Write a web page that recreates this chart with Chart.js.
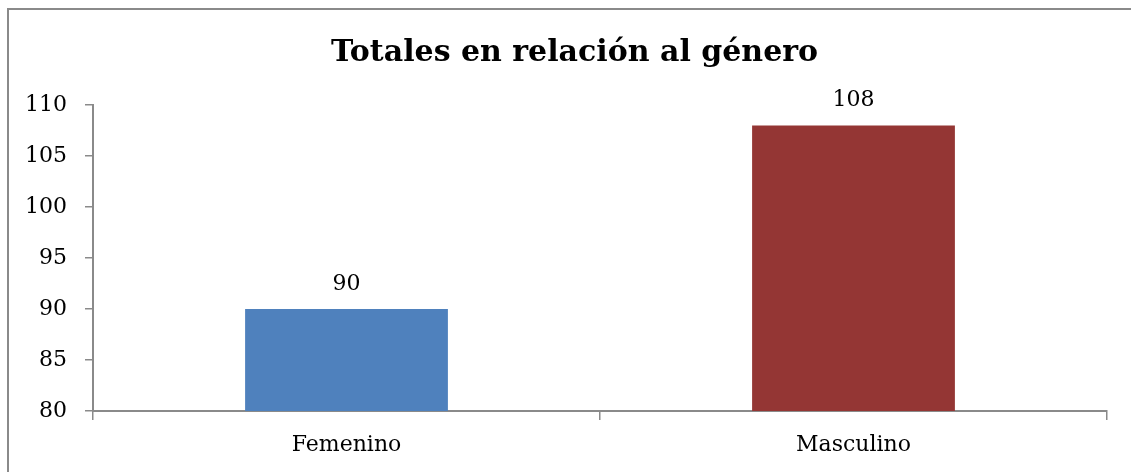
<!DOCTYPE html>
<html>
<head>
<meta charset="utf-8">
<script src="https://cdn.jsdelivr.net/npm/chart.js@4.4.1/dist/chart.umd.min.js"></script>
<style>
  html, body { margin: 0; padding: 0; background: #fff; }
  #wrap { position: relative; width: 1131px; height: 472px; overflow: hidden; }
  #frame { position: absolute; left: 7px; top: 8px; width: 1200px; height: 600px; border: 2px solid #8a8a8a; box-sizing: border-box; }
  canvas { position: absolute; left: 0; top: 0; }
</style>
</head>
<body>
<div id="wrap">
  <div id="frame"></div>
  <canvas id="c" width="1131" height="472"></canvas>
</div>
<script>
const categories = ["Femenino", "Masculino"];
const values = [90, 108];
const barColors = ["#4F81BD", "#943634"];
const titleText = "Totales en relación al género";
const yMin = 80, yMax = 110, yStep = 5;

const FONT = "'DejaVu Serif', 'Liberation Serif', serif";

const valueLabels = {
  id: 'valueLabels',
  afterDatasetsDraw(chart) {
    const ctx = chart.ctx;
    const meta = chart.getDatasetMeta(0);
    ctx.save();
    ctx.font = "22px " + FONT;
    ctx.fillStyle = "#000";
    ctx.textAlign = "center";
    ctx.textBaseline = "alphabetic";
    meta.data.forEach((bar, i) => {
      ctx.fillText(String(chart.data.datasets[0].data[i]), bar.x, bar.y - 19);
    });
    ctx.restore();
  }
};

// shift the title's horizontal box so it is centred like the original (frame starts at x=7)
const titleShift = {
  id: 'titleShift',
  afterLayout(chart) {
    if (chart.titleBlock) {
      chart.titleBlock.left = 42;
    }
  }
};

new Chart(document.getElementById('c'), {
  type: 'bar',
  data: {
    labels: categories,
    datasets: [{
      data: values,
      backgroundColor: barColors,
      borderWidth: 0,
      categoryPercentage: 0.4,
      barPercentage: 1.0
    }]
  },
  options: {
    responsive: false,
    animation: false,
    layout: { padding: { left: 0, right: 24, top: 0, bottom: 0 } },
    plugins: {
      legend: { display: false },
      tooltip: { enabled: false },
      title: {
        display: true,
        text: titleText,
        color: "#000",
        font: { family: FONT, size: 30, weight: 'bold', lineHeight: 1.2 },
        padding: { top: 35, bottom: 34 }
      }
    },
    scales: {
      x: {
        grid: { display: true, drawOnChartArea: false, drawTicks: true, tickLength: 9, color: "#8a8a8a", lineWidth: 1.5, offset: true },
        border: { display: true, color: "#8a8a8a", width: 2 },
        ticks: { color: "#000", font: { family: FONT, size: 22 }, padding: 12 },
        afterFit(scale) { scale.height = 61; }
      },
      y: {
        min: yMin, max: yMax,
        grid: { display: true, drawOnChartArea: false, drawTicks: true, tickLength: 8, color: "#8a8a8a", lineWidth: 1.5 },
        border: { display: true, color: "#8a8a8a", width: 2 },
        ticks: { stepSize: yStep, color: "#000", font: { family: FONT, size: 22 }, padding: 18 },
        afterFit(scale) { scale.width = 93; }
      }
    }
  },
  plugins: [valueLabels, titleShift]
});
</script>
</body>
</html>
